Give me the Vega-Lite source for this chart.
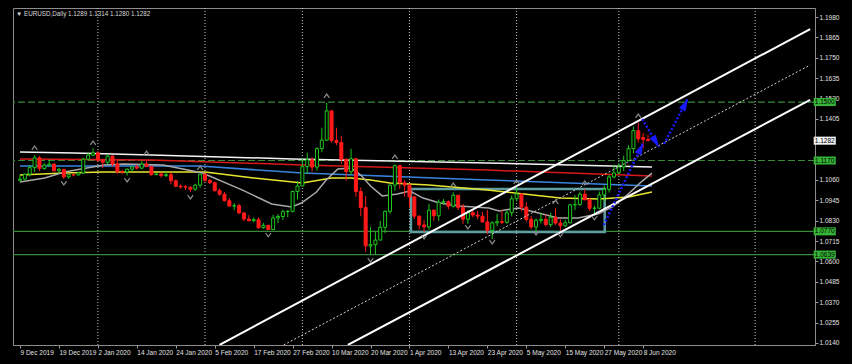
{
"$schema":"https://vega.github.io/schema/vega-lite/v6.json",
"autosize":{"type":"none"},
"width":802,"height":337,
"padding":{"left":13,"top":8,"right":37,"bottom":19},
"background":"#000000",
"config":{"view":{"fill":"#000000","stroke":"#8c8c8c","strokeWidth":1},"font":"Liberation Sans",
 "axis":{"labelOverlap":false,"labelBound":false,"labelFlush":false,"grid":false,"title":null,"domainColor":"#8c8c8c","tickColor":"#9a9a9a","labelColor":"#e0e0e0","labelFontSize":6.5,"labelFont":"Liberation Sans","tickSize":3,"labelPadding":1}},
"title":{"text":"▼ EURUSD,Daily  1.1289 1.1314 1.1280 1.1282","anchor":"start","frame":"group","orient":"top","offset":-15,"baseline":"alphabetic","fontSize":6.3,"fontWeight":"normal","color":"#d8d8d8","font":"Liberation Sans","dx":3},
"datasets":{
"candles":[
{"i":0,"o":1.1058,"h":1.1090,"l":1.1052,"c":1.1065},{"i":1,"o":1.1065,"h":1.1097,"l":1.1058,"c":1.1093},{"i":2,"o":1.1093,"h":1.1145,"l":1.1080,"c":1.1130},{"i":3,"o":1.1130,"h":1.1200,"l":1.1105,"c":1.1185},{"i":4,"o":1.1185,"h":1.1195,"l":1.1110,"c":1.1125},{"i":5,"o":1.1125,"h":1.1155,"l":1.1118,"c":1.1144},{"i":6,"o":1.1144,"h":1.1175,"l":1.1138,"c":1.1150},{"i":7,"o":1.1150,"h":1.1153,"l":1.1107,"c":1.1112},{"i":8,"o":1.1112,"h":1.1128,"l":1.1100,"c":1.1120},{"i":9,"o":1.1120,"h":1.1123,"l":1.1066,"c":1.1078},
{"i":10,"o":1.1078,"h":1.1093,"l":1.1067,"c":1.1090},{"i":11,"o":1.1090,"h":1.1095,"l":1.1080,"c":1.1089},{"i":12,"o":1.1089,"h":1.1103,"l":1.1085,"c":1.1100},{"i":13,"o":1.1100,"h":1.1185,"l":1.1095,"c":1.1177},{"i":14,"o":1.1177,"h":1.1215,"l":1.1170,"c":1.1200},{"i":15,"o":1.1200,"h":1.1239,"l":1.1195,"c":1.1213},{"i":16,"o":1.1213,"h":1.1224,"l":1.1162,"c":1.1172},{"i":17,"o":1.1172,"h":1.1177,"l":1.1127,"c":1.1160},{"i":18,"o":1.1160,"h":1.1206,"l":1.1150,"c":1.1195},{"i":19,"o":1.1195,"h":1.1200,"l":1.1134,"c":1.1151},
{"i":20,"o":1.1151,"h":1.1172,"l":1.1096,"c":1.1106},{"i":21,"o":1.1106,"h":1.1118,"l":1.1092,"c":1.1105},{"i":22,"o":1.1105,"h":1.1125,"l":1.1085,"c":1.1121},{"i":23,"o":1.1121,"h":1.1140,"l":1.1109,"c":1.1134},{"i":24,"o":1.1134,"h":1.1146,"l":1.1119,"c":1.1127},{"i":25,"o":1.1127,"h":1.1166,"l":1.1121,"c":1.1150},{"i":26,"o":1.1150,"h":1.1173,"l":1.1132,"c":1.1136},{"i":27,"o":1.1136,"h":1.1140,"l":1.1085,"c":1.1090},{"i":28,"o":1.1090,"h":1.1099,"l":1.1087,"c":1.1094},{"i":29,"o":1.1094,"h":1.1103,"l":1.1073,"c":1.1085},
{"i":30,"o":1.1085,"h":1.1107,"l":1.1077,"c":1.1090},{"i":31,"o":1.1090,"h":1.1101,"l":1.1036,"c":1.1056},{"i":32,"o":1.1056,"h":1.1063,"l":1.1019,"c":1.1025},{"i":33,"o":1.1025,"h":1.1036,"l":1.1010,"c":1.1021},{"i":34,"o":1.1021,"h":1.1031,"l":1.1003,"c":1.1020},{"i":35,"o":1.1020,"h":1.1022,"l":1.0992,"c":1.1008},{"i":36,"o":1.1008,"h":1.1039,"l":1.0999,"c":1.1031},{"i":37,"o":1.1031,"h":1.1096,"l":1.1017,"c":1.1093},{"i":38,"o":1.1093,"h":1.1095,"l":1.1050,"c":1.1058},{"i":39,"o":1.1058,"h":1.1065,"l":1.1037,"c":1.1045},
{"i":40,"o":1.1045,"h":1.1051,"l":1.0994,"c":1.1000},{"i":41,"o":1.1000,"h":1.1012,"l":1.0971,"c":1.0980},{"i":42,"o":1.0980,"h":1.0992,"l":1.0938,"c":1.0943},{"i":43,"o":1.0943,"h":1.0958,"l":1.0911,"c":1.0913},{"i":44,"o":1.0913,"h":1.0929,"l":1.0890,"c":1.0915},{"i":45,"o":1.0915,"h":1.0926,"l":1.0869,"c":1.0874},{"i":46,"o":1.0874,"h":1.0878,"l":1.0827,"c":1.0840},{"i":47,"o":1.0840,"h":1.0862,"l":1.0826,"c":1.0830},{"i":48,"o":1.0830,"h":1.0849,"l":1.0822,"c":1.0836},{"i":49,"o":1.0836,"h":1.0849,"l":1.0785,"c":1.0791},
{"i":50,"o":1.0791,"h":1.0818,"l":1.0785,"c":1.0804},{"i":51,"o":1.0804,"h":1.0808,"l":1.0778,"c":1.0780},{"i":52,"o":1.0780,"h":1.0863,"l":1.0778,"c":1.0846},{"i":53,"o":1.0846,"h":1.0868,"l":1.0816,"c":1.0854},{"i":54,"o":1.0854,"h":1.0892,"l":1.0835,"c":1.0881},{"i":55,"o":1.0881,"h":1.0890,"l":1.0850,"c":1.0883},{"i":56,"o":1.0883,"h":1.1000,"l":1.0877,"c":1.0995},{"i":57,"o":1.0995,"h":1.1054,"l":1.0950,"c":1.1026},{"i":58,"o":1.1026,"h":1.1185,"l":1.1025,"c":1.1135},{"i":59,"o":1.1135,"h":1.1214,"l":1.1094,"c":1.1174},
{"i":60,"o":1.1174,"h":1.1188,"l":1.1108,"c":1.1133},{"i":61,"o":1.1133,"h":1.1245,"l":1.1113,"c":1.1237},{"i":62,"o":1.1237,"h":1.1355,"l":1.1217,"c":1.1285},{"i":63,"o":1.1285,"h":1.1495,"l":1.1280,"c":1.1450},{"i":64,"o":1.1450,"h":1.1455,"l":1.1270,"c":1.1283},{"i":65,"o":1.1283,"h":1.1355,"l":1.1257,"c":1.1271},{"i":66,"o":1.1271,"h":1.1309,"l":1.1152,"c":1.1177},{"i":67,"o":1.1177,"h":1.1182,"l":1.1055,"c":1.1107},{"i":68,"o":1.1107,"h":1.1236,"l":1.1090,"c":1.1180},{"i":69,"o":1.1180,"h":1.1185,"l":1.0965,"c":1.0995},
{"i":70,"o":1.0995,"h":1.1018,"l":1.0855,"c":1.0905},{"i":71,"o":1.0905,"h":1.0970,"l":1.0655,"c":1.0688},{"i":72,"o":1.0688,"h":1.0795,"l":1.0636,"c":1.0695},{"i":73,"o":1.0695,"h":1.0768,"l":1.0640,"c":1.0721},{"i":74,"o":1.0721,"h":1.0830,"l":1.0720,"c":1.0793},{"i":75,"o":1.0793,"h":1.0888,"l":1.0760,"c":1.0883},{"i":76,"o":1.0883,"h":1.1035,"l":1.0870,"c":1.1031},{"i":77,"o":1.1031,"h":1.1147,"l":1.1000,"c":1.1141},{"i":78,"o":1.1141,"h":1.1145,"l":1.1010,"c":1.1044},{"i":79,"o":1.1044,"h":1.1060,"l":1.0966,"c":1.1031},
{"i":80,"o":1.1031,"h":1.1040,"l":1.0905,"c":1.0965},{"i":81,"o":1.0965,"h":1.0968,"l":1.0840,"c":1.0856},{"i":82,"o":1.0856,"h":1.0860,"l":1.0780,"c":1.0806},{"i":83,"o":1.0806,"h":1.0833,"l":1.0768,"c":1.0795},{"i":84,"o":1.0795,"h":1.0925,"l":1.0780,"c":1.0890},{"i":85,"o":1.0890,"h":1.0893,"l":1.0830,"c":1.0858},{"i":86,"o":1.0858,"h":1.0950,"l":1.0830,"c":1.0935},{"i":87,"o":1.0935,"h":1.0952,"l":1.0920,"c":1.0938},{"i":88,"o":1.0938,"h":1.0945,"l":1.0895,"c":1.0912},{"i":89,"o":1.0912,"h":1.0990,"l":1.0905,"c":1.0974},
{"i":90,"o":1.0974,"h":1.0975,"l":1.0890,"c":1.0905},{"i":91,"o":1.0905,"h":1.0925,"l":1.0813,"c":1.0839},{"i":92,"o":1.0839,"h":1.0890,"l":1.0812,"c":1.0876},{"i":93,"o":1.0876,"h":1.0890,"l":1.0850,"c":1.0862},{"i":94,"o":1.0862,"h":1.0886,"l":1.0838,"c":1.0856},{"i":95,"o":1.0856,"h":1.0880,"l":1.0820,"c":1.0823},{"i":96,"o":1.0823,"h":1.0891,"l":1.0755,"c":1.0775},{"i":97,"o":1.0775,"h":1.0828,"l":1.0727,"c":1.0818},{"i":98,"o":1.0818,"h":1.0869,"l":1.0800,"c":1.0825},{"i":99,"o":1.0825,"h":1.0890,"l":1.0811,"c":1.0821},
{"i":100,"o":1.0821,"h":1.0890,"l":1.0813,"c":1.0875},{"i":101,"o":1.0875,"h":1.0973,"l":1.0855,"c":1.0954},{"i":102,"o":1.0954,"h":1.1019,"l":1.0940,"c":1.0981},{"i":103,"o":1.0981,"h":1.0983,"l":1.0885,"c":1.0907},{"i":104,"o":1.0907,"h":1.0935,"l":1.0825,"c":1.0838},{"i":105,"o":1.0838,"h":1.0858,"l":1.0782,"c":1.0795},{"i":106,"o":1.0795,"h":1.0843,"l":1.0767,"c":1.0832},{"i":107,"o":1.0832,"h":1.0875,"l":1.0815,"c":1.0838},{"i":108,"o":1.0838,"h":1.0865,"l":1.0798,"c":1.0808},{"i":109,"o":1.0808,"h":1.0875,"l":1.0795,"c":1.0850},
{"i":110,"o":1.0850,"h":1.0900,"l":1.0805,"c":1.0817},{"i":111,"o":1.0817,"h":1.0838,"l":1.0775,"c":1.0802},{"i":112,"o":1.0802,"h":1.0835,"l":1.0795,"c":1.0819},{"i":113,"o":1.0819,"h":1.0925,"l":1.0815,"c":1.0920},{"i":114,"o":1.0920,"h":1.0975,"l":1.0890,"c":1.0921},{"i":115,"o":1.0921,"h":1.0995,"l":1.0915,"c":1.0980},{"i":116,"o":1.0980,"h":1.1009,"l":1.0945,"c":1.0948},{"i":117,"o":1.0948,"h":1.0958,"l":1.0885,"c":1.0900},{"i":118,"o":1.0900,"h":1.0915,"l":1.0870,"c":1.0901},{"i":119,"o":1.0901,"h":1.0995,"l":1.0895,"c":1.0976},
{"i":120,"o":1.0976,"h":1.1030,"l":1.0935,"c":1.1007},{"i":121,"o":1.1007,"h":1.1090,"l":1.0989,"c":1.1077},{"i":122,"o":1.1077,"h":1.1147,"l":1.1070,"c":1.1100},{"i":123,"o":1.1100,"h":1.1155,"l":1.1094,"c":1.1134},{"i":124,"o":1.1134,"h":1.1197,"l":1.1110,"c":1.1170},{"i":125,"o":1.1170,"h":1.1257,"l":1.1165,"c":1.1237},{"i":126,"o":1.1237,"h":1.1362,"l":1.1210,"c":1.1339},{"i":127,"o":1.1339,"h":1.1384,"l":1.1271,"c":1.1292},{"i":128,"o":1.1300,"h":1.1325,"l":1.1240,"c":1.1289},{"i":129,"o":1.1289,"h":1.1314,"l":1.1280,"c":1.1282}
],
"ma":[
{"m":"white","i":0,"v":1.1218},{"m":"white","i":11,"v":1.1212},{"m":"white","i":27,"v":1.1201},{"m":"white","i":56,"v":1.1179},{"m":"white","i":96,"v":1.1156},{"m":"white","i":129.8,"v":1.1133},
{"m":"red","i":0,"v":1.1179},{"m":"red","i":27,"v":1.1173},{"m":"red","i":58,"v":1.1145},{"m":"red","i":96,"v":1.1116},{"m":"red","i":129.8,"v":1.1083},
{"m":"blue","i":0,"v":1.1139},{"m":"blue","i":37,"v":1.1139},{"m":"blue","i":58,"v":1.1099},{"m":"blue","i":96,"v":1.1060},{"m":"blue","i":129.8,"v":1.1026},
{"m":"yellow","i":0,"v":1.1088},{"m":"yellow","i":9,"v":1.1099},{"m":"yellow","i":17,"v":1.1105},{"m":"yellow","i":38,"v":1.1105},{"m":"yellow","i":48,"v":1.1071},{"m":"yellow","i":58,"v":1.1043},{"m":"yellow","i":64,"v":1.1071},{"m":"yellow","i":68,"v":1.1071},{"m":"yellow","i":72,"v":1.1060},{"m":"yellow","i":76,"v":1.1043},{"m":"yellow","i":84,"v":1.1032},{"m":"yellow","i":96,"v":1.1004},{"m":"yellow","i":111,"v":1.0958},{"m":"yellow","i":119,"v":1.0953},{"m":"yellow","i":125,"v":1.0964},{"m":"yellow","i":129.8,"v":1.0992},
{"m":"gray","i":0,"v":1.1049},{"m":"gray","i":5.1,"v":1.1071},{"m":"gray","i":9.1,"v":1.1105},{"m":"gray","i":17.2,"v":1.1145},{"m":"gray","i":21.3,"v":1.1150},{"m":"gray","i":29.4,"v":1.1145},{"m":"gray","i":37.5,"v":1.1099},{"m":"gray","i":45.6,"v":1.1004},{"m":"gray","i":51.7,"v":1.0925},{"m":"gray","i":55.8,"v":1.0908},{"m":"gray","i":57.8,"v":1.0930},{"m":"gray","i":60.9,"v":1.0992},{"m":"gray","i":62.9,"v":1.1060},{"m":"gray","i":65.3,"v":1.1122},{"m":"gray","i":68,"v":1.1128},{"m":"gray","i":70,"v":1.1088},{"m":"gray","i":72,"v":1.1026},{"m":"gray","i":74.4,"v":1.0970},{"m":"gray","i":77.5,"v":1.0981},{"m":"gray","i":80.1,"v":1.0998},{"m":"gray","i":82.8,"v":1.0958},{"m":"gray","i":86.2,"v":1.0930},{"m":"gray","i":90.3,"v":1.0913},{"m":"gray","i":96.3,"v":1.0902},{"m":"gray","i":98.4,"v":1.0885},{"m":"gray","i":102.4,"v":1.0902},{"m":"gray","i":106.5,"v":1.0874},{"m":"gray","i":110.5,"v":1.0845},{"m":"gray","i":114.6,"v":1.0845},{"m":"gray","i":118.7,"v":1.0868},{"m":"gray","i":121.7,"v":1.0908},{"m":"gray","i":124.7,"v":1.0975},{"m":"gray","i":127.8,"v":1.1054},{"m":"gray","i":129.8,"v":1.1099}
],
"fractals":[
{"i":3,"v":1.1241,"dir":"up"},{"i":15,"v":1.1269,"dir":"up"},{"i":26,"v":1.1212,"dir":"up"},{"i":37,"v":1.1128,"dir":"up"},{"i":63,"v":1.1534,"dir":"up"},{"i":77,"v":1.1190,"dir":"up"},{"i":89,"v":1.1032,"dir":"up"},{"i":102,"v":1.1049,"dir":"up"},{"i":110,"v":1.0936,"dir":"up"},{"i":116,"v":1.1043,"dir":"up"},{"i":127,"v":1.1421,"dir":"up"},
{"i":9,"v":1.1043,"dir":"down"},{"i":22,"v":1.1060,"dir":"down"},{"i":35,"v":1.0964,"dir":"down"},{"i":51,"v":1.0750,"dir":"down"},{"i":72,"v":1.0608,"dir":"down"},{"i":83,"v":1.0738,"dir":"down"},{"i":92,"v":1.0795,"dir":"down"},{"i":97,"v":1.0710,"dir":"down"},{"i":106,"v":1.0761,"dir":"down"},{"i":111,"v":1.0750,"dir":"down"},{"i":118,"v":1.0846,"dir":"down"}
]
},
"layer":[
{"data":{"values":[{"i":16},{"i":38},{"i":58},{"i":80},{"i":102},{"i":123},{"i":151}]},
 "mark":{"type":"rule","color":"#c8c8c8","strokeDash":[1,2],"strokeWidth":1},
 "encoding":{"x":{"field":"i","type":"quantitative","scale":{"domain":[-0.41,162.27],"nice":false,"zero":false},
   "axis":{"title":null,"orient":"bottom","values":[0,8,16,24,32,40,48,56,64,72,80,88,96,104,112,120,128],"labelExpr":"['9 Dec 2019','19 Dec 2019','2 Jan 2020','14 Jan 2020','24 Jan 2020','5 Feb 2020','17 Feb 2020','27 Feb 2020','10 Mar 2020','20 Mar 2020','1 Apr 2020','13 Apr 2020','23 Apr 2020','5 May 2020','15 May 2020','27 May 2020','8 Jun 2020'][round(datum.value/8)]","labelAlign":"left","labelOverlap":false}}}},
{"data":{"values":[{"v":1.1500,"k":"dash"},{"v":1.1170,"k":"dash"},{"v":1.0770,"k":"solid"},{"v":1.0639,"k":"solid"}]},
 "mark":{"type":"rule","color":"#388a38","strokeWidth":1.2},
 "encoding":{"y":{"field":"v","type":"quantitative","scale":{"domain":[1.01287,1.20308],"nice":false,"zero":false},
   "axis":{"title":null,"orient":"right","values":[1.014,1.0255,1.037,1.0485,1.06,1.0715,1.083,1.0945,1.106,1.1405,1.152,1.1635,1.175,1.1865,1.198],"format":".4f","labelOverlap":false}},
  "strokeDash":{"field":"k","type":"nominal","scale":{"domain":["dash","solid"],"range":[[7,3],[1,0]]},"legend":null}}},
{"encoding":{
 "x":{"field":"i","type":"quantitative","scale":{"domain":[-0.41,162.27],"nice":false,"zero":false},
   "axis":{"title":null,"orient":"bottom","values":[0,8,16,24,32,40,48,56,64,72,80,88,96,104,112,120,128],"labelExpr":"['9 Dec 2019','19 Dec 2019','2 Jan 2020','14 Jan 2020','24 Jan 2020','5 Feb 2020','17 Feb 2020','27 Feb 2020','10 Mar 2020','20 Mar 2020','1 Apr 2020','13 Apr 2020','23 Apr 2020','5 May 2020','15 May 2020','27 May 2020','8 Jun 2020'][round(datum.value/8)]","labelAlign":"left","labelOverlap":false}},
 "y":{"field":"v","type":"quantitative","scale":{"domain":[1.01287,1.20308],"nice":false,"zero":false},
   "axis":{"title":null,"orient":"right","values":[1.014,1.0255,1.037,1.0485,1.06,1.0715,1.083,1.0945,1.106,1.1405,1.152,1.1635,1.175,1.1865,1.198],"format":".4f","labelOverlap":false}}
 },
 "layer":[
 {"data":{"values":[{"i1":80.3,"i2":120.1,"v1":1.1009,"v2":1.0767}]},
  "mark":{"type":"rect","filled":false,"stroke":"#5f9ea0","strokeWidth":2.5},
  "encoding":{"x":{"field":"i1","type":"quantitative"},"x2":{"field":"i2"},"y":{"field":"v1","type":"quantitative"},"y2":{"field":"v2"}}},
 {"data":{"name":"ma"},
  "mark":{"type":"line","strokeWidth":1.5},
  "encoding":{"color":{"field":"m","type":"nominal","scale":{"domain":["white","red","blue","yellow","gray"],"range":["#f4f4f4","#d81818","#3a84e0","#e6e630","#a8a8a8"]},"legend":null}}},
 {"data":{"name":"candles"},
  "mark":{"type":"rule","strokeWidth":1},
  "encoding":{"y":{"field":"l","type":"quantitative"},"y2":{"field":"h"},
   "color":{"condition":{"test":"datum.c >= datum.o","value":"#1ec81e"},"value":"#ff1a1a"}}},
 {"data":{"name":"candles"},
  "mark":{"type":"bar","width":3,"strokeWidth":1},
  "encoding":{"y":{"field":"o","type":"quantitative"},"y2":{"field":"c"},
   "fill":{"condition":{"test":"datum.c >= datum.o","value":"#000000"},"value":"#ff1a1a"},
   "stroke":{"condition":{"test":"datum.c >= datum.o","value":"#1ec81e"},"value":"#ff1a1a"}}},
 {"data":{"values":[{"ln":"u","i":40.97,"v":1.0129},{"ln":"u","i":162.3,"v":1.1912},{"ln":"l","i":67.34,"v":1.0129},{"ln":"l","i":162.3,"v":1.1512}]},
  "mark":{"type":"line","color":"#ffffff","strokeWidth":2,"clip":true},
  "encoding":{"detail":{"field":"ln"}}},
 {"data":{"values":[{"i":54.16,"v":1.0129},{"i":162.3,"v":1.1709}]},
  "mark":{"type":"line","color":"#d0d0d0","strokeWidth":1,"strokeDash":[2,2],"clip":true},
  "encoding":{}},
 {"data":{"name":"fractals"},
  "mark":{"type":"point","filled":false,"stroke":"#8c8c8c","strokeWidth":1.2,"size":30,"opacity":1},
  "encoding":{"shape":{"field":"dir","type":"nominal","scale":{"domain":["up","down"],"range":["M-1,0.7L0,-0.7L1,0.7","M-1,-0.7L0,0.7L1,-0.7"]},"legend":null}}},
 {"data":{"values":[{"a":"a1","i":119.9,"v":1.0806},{"a":"a1","i":128.0,"v":1.1269},{"a":"a2","i":127.8,"v":1.1404},{"a":"a2","i":131.2,"v":1.1246},{"a":"a3","i":132.3,"v":1.1263},{"a":"a3","i":137.1,"v":1.1517}]},
  "mark":{"type":"line","color":"#1a1aff","strokeWidth":2.5,"strokeDash":[2,2]},
  "encoding":{"detail":{"field":"a"}}},
 {"data":{"values":[{"i":127.5,"v":1.1238}]},
  "mark":{"type":"point","shape":"M0,-1L0.6,1L-0.6,1Z","filled":true,"color":"#1a1aff","size":150,"angle":26,"opacity":1},
  "encoding":{}},
 {"data":{"values":[{"i":130.6,"v":1.1275}]},
  "mark":{"type":"point","shape":"M0,-1L0.6,1L-0.6,1Z","filled":true,"color":"#1a1aff","size":150,"angle":149,"opacity":1},
  "encoding":{}},
 {"data":{"values":[{"i":136.6,"v":1.1487}]},
  "mark":{"type":"point","shape":"M0,-1L0.6,1L-0.6,1Z","filled":true,"color":"#1a1aff","size":150,"angle":28,"opacity":1},
  "encoding":{}}
 ]
},
{"data":{"values":[{"v":1.1500,"k":"level"},{"v":1.1282,"k":"current"},{"v":1.1170,"k":"level"},{"v":1.0770,"k":"level"},{"v":1.0639,"k":"level"}]},
 "mark":{"type":"point","shape":"M-1.7,-0.62H1.7V0.62H-1.7Z","filled":true,"size":169,"opacity":1,"strokeWidth":0},
 "encoding":{"x":{"datum":165.3,"type":"quantitative","scale":{"domain":[-0.41,162.27],"nice":false,"zero":false},
   "axis":{"title":null,"orient":"bottom","values":[0,8,16,24,32,40,48,56,64,72,80,88,96,104,112,120,128],"labelExpr":"['9 Dec 2019','19 Dec 2019','2 Jan 2020','14 Jan 2020','24 Jan 2020','5 Feb 2020','17 Feb 2020','27 Feb 2020','10 Mar 2020','20 Mar 2020','1 Apr 2020','13 Apr 2020','23 Apr 2020','5 May 2020','15 May 2020','27 May 2020','8 Jun 2020'][round(datum.value/8)]","labelAlign":"left","labelOverlap":false}},
  "y":{"field":"v","type":"quantitative","scale":{"domain":[1.01287,1.20308],"nice":false,"zero":false},
   "axis":{"title":null,"orient":"right","values":[1.014,1.0255,1.037,1.0485,1.06,1.0715,1.083,1.0945,1.106,1.1405,1.152,1.1635,1.175,1.1865,1.198],"format":".4f","labelOverlap":false}},
  "fill":{"field":"k","type":"nominal","scale":{"domain":["level","current"],"range":["#36b336","#f2f2f2"]},"legend":null}}},
{"data":{"values":[{"v":1.1500},{"v":1.1282},{"v":1.1170},{"v":1.0770},{"v":1.0639}]},
 "mark":{"type":"text","color":"#000000","fontSize":6.5,"align":"center","baseline":"middle","font":"Liberation Sans"},
 "encoding":{"x":{"datum":165.3,"type":"quantitative","scale":{"domain":[-0.41,162.27],"nice":false,"zero":false},
   "axis":{"title":null,"orient":"bottom","values":[0,8,16,24,32,40,48,56,64,72,80,88,96,104,112,120,128],"labelExpr":"['9 Dec 2019','19 Dec 2019','2 Jan 2020','14 Jan 2020','24 Jan 2020','5 Feb 2020','17 Feb 2020','27 Feb 2020','10 Mar 2020','20 Mar 2020','1 Apr 2020','13 Apr 2020','23 Apr 2020','5 May 2020','15 May 2020','27 May 2020','8 Jun 2020'][round(datum.value/8)]","labelAlign":"left","labelOverlap":false}},
  "y":{"field":"v","type":"quantitative","scale":{"domain":[1.01287,1.20308],"nice":false,"zero":false},
   "axis":{"title":null,"orient":"right","values":[1.014,1.0255,1.037,1.0485,1.06,1.0715,1.083,1.0945,1.106,1.1405,1.152,1.1635,1.175,1.1865,1.198],"format":".4f","labelOverlap":false}},
  "text":{"field":"v","type":"quantitative","format":".4f"}}}
]
}
